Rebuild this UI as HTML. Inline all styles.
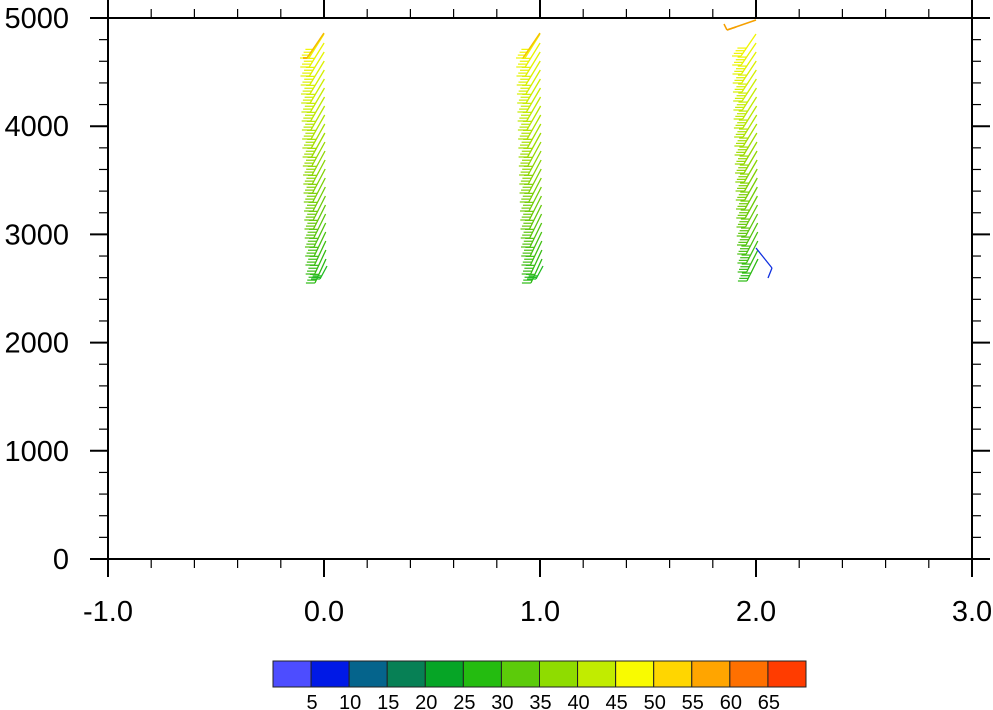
<!DOCTYPE html>
<html><head><meta charset="utf-8"><style>
body{margin:0;background:#fff}
svg{display:block;font-family:"Liberation Sans",sans-serif}
</style></head><body>
<svg id="s" width="993" height="710" xmlns="http://www.w3.org/2000/svg"></svg>
<script>
const s=document.getElementById('s');let h='';
const L=(x1,y1,x2,y2,c,w)=>h+=`<line x1="${x1}" y1="${y1}" x2="${x2}" y2="${y2}" stroke="${c}" stroke-width="${w}"/>`;
const T=(x,y,t,a,fs)=>h+=`<text x="${x}" y="${y}" text-anchor="${a}" font-size="${fs}">${t}</text>`;
const X0=108,X1=972,Y0=559,Y1=18;
const px=v=>X0+(v+1)*216, py=v=>Y0-v*(Y0-Y1)/5000;
h+=`<rect x="${X0}" y="${Y1}" width="${X1-X0}" height="${Y0-Y1}" fill="none" stroke="#000" stroke-width="2"/>`;
for(let i=0;i<=20;i++){const v=-1+i*0.2,x=px(v),maj=i%5==0,l=maj?18:9;
 L(x,Y0,x,Y0+l,'#000',maj?2:1.2);L(x,Y1,x,Y1-l,'#000',maj?2:1.2);
 if(maj)T(x,621,v.toFixed(1),'middle',29);}
for(let i=0;i<=25;i++){const v=i*200,y=py(v),maj=i%5==0,l=maj?18:9;
 L(X0,y,X0-l,y,'#000',maj?2:1.2);L(X1,y,X1+l,y,'#000',maj?2:1.2);
 if(maj)T(69,y+10,v,'end',29);}
function col(t){
 const a=[[40,185,20],[100,200,10],[145,215,0],[195,235,0],[240,245,0]];
 const f=t*(a.length-1),i=Math.min(a.length-2,Math.floor(f)),r=f-i;
 return `rgb(${a[i].map((c,k)=>Math.round(c+(a[i+1][k]-c)*r)).join(',')})`;}
function barb(x,y,dx,dy,n,c){
 L(x,y,x+dx,y+dy,c,1.3);
 for(let k=0;k<n;k++){const f=1-k*0.12,bx=x+dx*f,by=y+dy*f;L(bx,by,bx-9,by,c,1.2);}
}
[324,540,756].forEach((x0,si)=>{
 for(let y=34;y<=262;y+=9){
  const t=1-(y-34)/228;
  const xs=x0+ (y-34)/228*2;
  const dy=si==2?22:24, dx=-15+ (1-t)*4;
  barb(xs,y,dx,dy,4,col(t));
 }
 if(si<2){barb(x0+3,266,-7,13,3,'#2b2');}
});
L(324,33,307,58,'#f5b800',1.5);L(307,58,303,58,'#f5b800',2);
L(540,33,523,58,'#f5c000',1.5);
L(756,20,727,30,'#f5a000',1.5);L(727,30,724,24,'#f5a000',1.5);L(727,30,736,27,'#f5a000',1.5);
L(756,248,772,268,'#1030e0',1.3);L(772,268,768,278,'#1030e0',1.3);
const cs=['#4d4dff','#0019e6','#05648c','#078055','#06a526','#24bc10','#5ccb0a','#8fdc00','#c1ec00','#f9fb00','#ffd600','#ffa500','#ff7000','#ff3c00'];
const cw=(806-273)/14;
cs.forEach((c,i)=>{h+=`<rect x="${273+i*cw}" y="661" width="${cw}" height="26" fill="${c}" stroke="#222" stroke-width="1"/>`;
 if(i>0)T(273+i*cw+1,709,i*5,'middle',20);});
s.innerHTML=h;
</script>
</body></html>
